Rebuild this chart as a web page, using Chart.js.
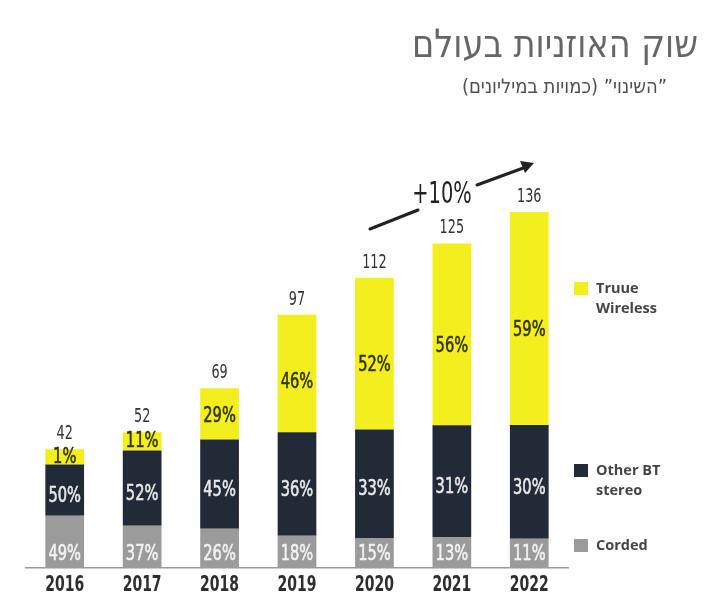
<!DOCTYPE html>
<html lang="he">
<head>
<meta charset="utf-8">
<title>שוק האוזניות בעולם</title>
<script src="https://cdn.jsdelivr.net/npm/chart.js@4/dist/chart.umd.min.js"></script>
<style>
  html, body { margin: 0; padding: 0; background: #fff; }
  #chart { display: block; }
</style>
</head>
<body>
<canvas id="chart" width="728" height="607"></canvas>
<script>
// data (millions of units)
const years = ["2016", "2017", "2018", "2019", "2020", "2021", "2022"];
const totals = [42, 52, 69, 97, 112, 125, 136];

// share labels printed on the bars
const cordedPct = [49, 37, 26, 18, 15, 13, 11];
const otherBtPct = [50, 52, 45, 36, 33, 31, 30];
const trueWirelessPct = [1, 11, 29, 46, 52, 56, 59];

// segment heights as drawn
const cordedVals = [20, 16.2, 15, 12.3, 11.5, 11.9, 11.2];
const otherBtVals = [19.6, 28.8, 34.2, 39.6, 41.5, 42.7, 43.5];
const trueWirelessVals = [5.8, 6.9, 19.6, 45, 58.1, 69.6, 81.5];

const COND = '"DejaVu Sans Condensed", "Liberation Sans Narrow", "DejaVu Sans", sans-serif';
const SANS = '"Open Sans", "Noto Sans", sans-serif';

const YELLOW = "#f3ef1f";
const NAVY = "#222a37";
const GREY = "#9b9b9b";

// squeeze text horizontally to look like the condensed face in the original
function condText(ctx, text, x, y, factor, stroke) {
  const w = ctx.measureText(text).width;
  ctx.fillText(text, x, y, w * factor);
  if (stroke) ctx.strokeText(text, x, y, w * factor);
}

const labelsPlugin = {
  id: "labels",
  afterDatasetsDraw(chart) {
    const ctx = chart.ctx;
    const pcts = [cordedPct, otherBtPct, trueWirelessPct];
    const colors = ["#f2f2f2", "#e6e8ea", "#35340f"];
    ctx.save();
    ctx.textAlign = "center";
    ctx.textBaseline = "middle";
    ctx.font = "22px " + COND;
    ctx.lineWidth = 0.6;
    chart.data.datasets.forEach((ds, di) => {
      const meta = chart.getDatasetMeta(di);
      meta.data.forEach((bar, i) => {
        const h = bar.base - bar.y;
        let y;
        if (di === 0) y = bar.base - 14;
        else if (di === 1) y = (bar.y + bar.base) / 2 + 6;
        else y = (bar.y + bar.base) / 2 + Math.max(0, Math.min(12, (h - 30) / 10));
        ctx.fillStyle = colors[di];
        ctx.strokeStyle = colors[di];
        condText(ctx, pcts[di][i] + "%", bar.x, y, 0.74, true);
      });
    });

    // totals above the bars
    const top = chart.getDatasetMeta(2);
    ctx.fillStyle = "#333";
    ctx.font = "19px " + COND;
    top.data.forEach((bar, i) => {
      condText(ctx, String(totals[i]), bar.x, bar.y - 15, 0.75);
    });

    // year labels under the axis
    const xs = chart.scales.x;
    ctx.font = "bold 21px " + COND;
    ctx.fillStyle = "#2e2e2e";
    years.forEach((yr, i) => {
      condText(ctx, yr, xs.getPixelForValue(i), xs.top + 18, 0.74);
    });
    ctx.restore();
  },
  afterDraw(chart) {
    const ctx = chart.ctx;
    ctx.save();

    // title + subtitle (right to left)
    ctx.direction = "rtl";
    ctx.textAlign = "right";
    ctx.textBaseline = "middle";
    ctx.fillStyle = "#666";
    ctx.font = "39px " + COND;
    ctx.fillText("שוק האוזניות בעולם", 698, 47, 286);
    ctx.fillStyle = "#505050";
    ctx.font = "20px " + COND;
    ctx.fillText("\u201Dהשינוי\u201D (כמויות במיליונים)", 667, 88, 227);
    ctx.direction = "ltr";

    // +10% growth arrow
    ctx.strokeStyle = "#222";
    ctx.fillStyle = "#222";
    ctx.lineWidth = 3;
    ctx.lineCap = "round";
    ctx.beginPath();
    ctx.moveTo(370, 229);
    ctx.lineTo(418, 210);
    ctx.moveTo(477, 185);
    ctx.lineTo(526, 167);
    ctx.stroke();
    ctx.beginPath();
    ctx.moveTo(534, 163);
    ctx.lineTo(520, 161);
    ctx.lineTo(525, 173);
    ctx.closePath();
    ctx.fill();
    ctx.textAlign = "center";
    ctx.font = "30px " + COND;
    condText(ctx, "+10%", 442, 195, 0.72);

    // legend on the right
    const items = [
      { color: YELLOW, y: 289, lines: ["Truue", "Wireless"] },
      { color: NAVY, y: 471, lines: ["Other BT", "stereo"] },
      { color: GREY, y: 546, lines: ["Corded"] }
    ];
    ctx.textAlign = "left";
    ctx.font = "bold 14.5px " + SANS;
    items.forEach(it => {
      ctx.fillStyle = it.color;
      ctx.fillRect(574, it.y - 7, 14, 13);
      ctx.fillStyle = "#454545";
      it.lines.forEach((ln, k) => ctx.fillText(ln, 596, it.y + k * 20));
    });
    ctx.restore();
  }
};

new Chart(document.getElementById("chart"), {
  type: "bar",
  data: {
    labels: years,
    datasets: [
      { label: "Corded", data: cordedVals, backgroundColor: GREY },
      { label: "Other BT stereo", data: otherBtVals, backgroundColor: NAVY },
      { label: "Truue Wireless", data: trueWirelessVals, backgroundColor: YELLOW }
    ]
  },
  options: {
    responsive: false,
    animation: false,
    layout: { padding: { left: 26, right: 160, top: 176, bottom: 31 } },
    datasets: { bar: { barPercentage: 0.5, categoryPercentage: 1.0 } },
    plugins: { legend: { display: false }, tooltip: { enabled: false } },
    scales: {
      x: {
        stacked: true,
        grid: { display: false },
        border: { display: true, color: "#9a9a9a", width: 1.5 },
        ticks: { display: false }
      },
      y: { stacked: true, display: false, min: 0, max: 150 }
    }
  },
  plugins: [labelsPlugin]
});
</script>
</body>
</html>
